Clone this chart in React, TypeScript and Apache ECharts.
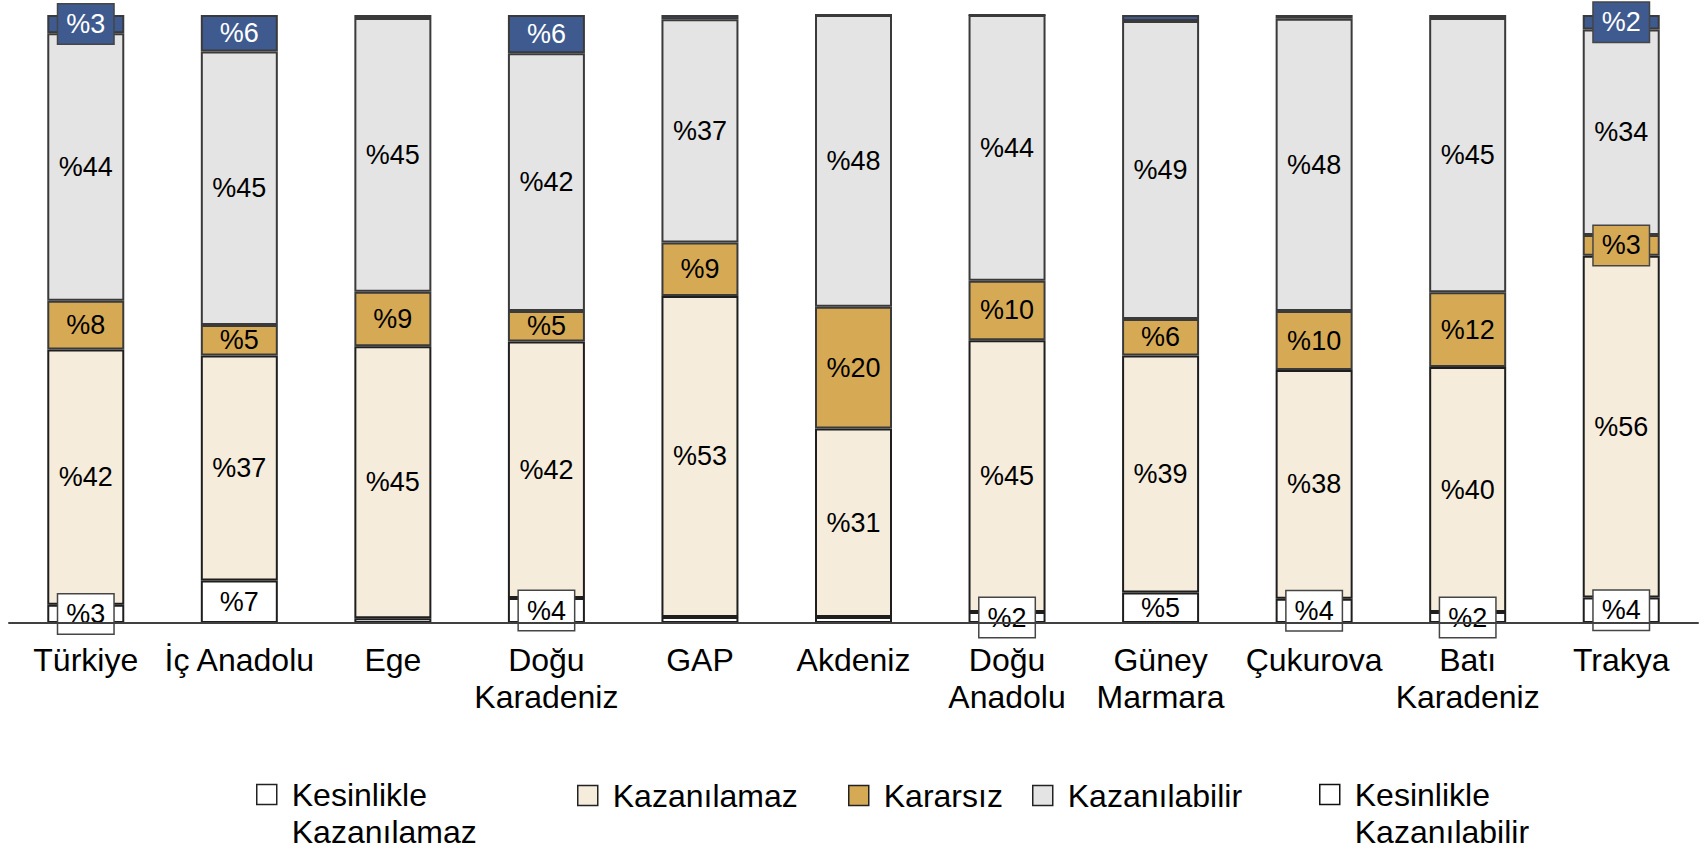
import React, { useEffect, useRef } from "react";
import * as echarts from "echarts";

const categories = [
  "Türkiye",
  "İç Anadolu",
  "Ege",
  "Doğu\nKaradeniz",
  "GAP",
  "Akdeniz",
  "Doğu\nAnadolu",
  "Güney\nMarmara",
  "Çukurova",
  "Batı\nKaradeniz",
  "Trakya",
];

const kesinlikleKazanilamaz = [3, 7, 0.8, 4.1, 1, 1, 1.8, 5, 4, 1.8, 4.2];
const kazanilamaz = [42, 37, 44.7, 42.2, 52.8, 31, 44.7, 39, 37.6, 40.3, 56.2];
const kararsiz = [8, 5, 9, 5, 8.8, 20, 9.8, 6, 9.7, 12.3, 3.4];
const kazanilabilir = [44, 45, 45, 42.4, 36.7, 48, 43.7, 49, 48.1, 45.1, 33.8];
const kesinlikleKazanilabilir = [3, 6, 0.5, 6.3, 0.7, 0, 0, 1, 0.6, 0.5, 2.4];

const seriesNames = [
  "Kesinlikle\nKazanılamaz",
  "Kazanılamaz",
  "Kararsız",
  "Kazanılabilir",
  "Kesinlikle\nKazanılabilir",
];

const FONT = "'Liberation Sans', Arial, Helvetica, sans-serif";

export default function App() {
  const ref = useRef<HTMLDivElement>(null);

  useEffect(() => {
    if (!ref.current) return;
    const chart = echarts.init(ref.current, undefined, { renderer: "svg" });

    const specs = [
      { values: kesinlikleKazanilamaz, color: "#ffffff", border: "#1e1e1e", text: "#000" },
      { values: kazanilamaz, color: "#f5ecdc", border: "#1e1e1e", text: "#000" },
      { values: kararsiz, color: "#d6aa55", border: "#3a3a3a", text: "#000" },
      { values: kazanilabilir, color: "#e4e4e4", border: "#3a3a3a", text: "#000" },
      { values: kesinlikleKazanilabilir, color: "#3e5a8f", border: "#3a3a3a", text: "#fff" },
    ];

    const series = specs.map((s, i) => ({
      name: seriesNames[i],
      type: "bar",
      stack: "total",
      barWidth: 77,
      itemStyle: { color: s.color, borderColor: s.border, borderWidth: 2 },
      label: {
        show: true,
        position: "inside",
        color: s.text,
        fontSize: 27,
        lineHeight: 27,
        fontFamily: FONT,
        formatter: (p: any) => "%" + Math.round(p.value),
      },
      data: s.values.map((v) => {
        if (v < 1.5) return { value: v, label: { show: false } };
        if (v < 4.5)
          return {
            value: v,
            label: {
              show: true,
              backgroundColor: s.color,
              borderColor: "#454545",
              borderWidth: 1.5,
              padding: [6, 8],
            },
          };
        return { value: v };
      }),
    }));

    const legendLefts = [256, 577, 848, 1032, 1319];
    const legends = seriesNames.map((name, i) => {
      const twoLine = name.includes("\n");
      return {
        show: true,
        left: legendLefts[i],
        top: twoLine ? 739 : 777,
        padding: 0,
        itemWidth: 20,
        itemHeight: 20,
        icon: "rect",
        selectedMode: false,
        formatter: (n: string) => (n.includes("\n") ? " \n" + n : n),
        textStyle: {
          fontSize: 32,
          lineHeight: 37,
          color: "#000",
          fontFamily: FONT,
          padding: [0, 0, 0, 10],
        },
        data: [
          i === 4
            ? {
                name,
                itemStyle: { color: "#ffffff", borderColor: "#111", borderWidth: 1.5 },
              }
            : {
                name,
                itemStyle: { borderColor: "#222", borderWidth: 1.5 },
              },
        ],
      };
    });

    chart.setOption({
      animation: false,
      backgroundColor: "#ffffff",
      grid: { left: 9, right: 6, top: 15, bottom: 226, containLabel: false },
      legend: legends,
      xAxis: {
        type: "category",
        data: categories,
        axisTick: { show: false },
        axisLine: { lineStyle: { color: "#404040", width: 2 } },
        axisLabel: {
          fontSize: 32,
          lineHeight: 37,
          color: "#000",
          fontFamily: FONT,
          margin: 18,
          interval: 0,
        },
        z: 5,
      },
      yAxis: { type: "value", min: 0, max: 100, show: false },
      series,
    });

    return () => chart.dispose();
  }, []);

  return (
    <div
      ref={ref}
      style={{ position: "absolute", left: 0, top: 0, width: 1704, height: 849 }}
    />
  );
}
